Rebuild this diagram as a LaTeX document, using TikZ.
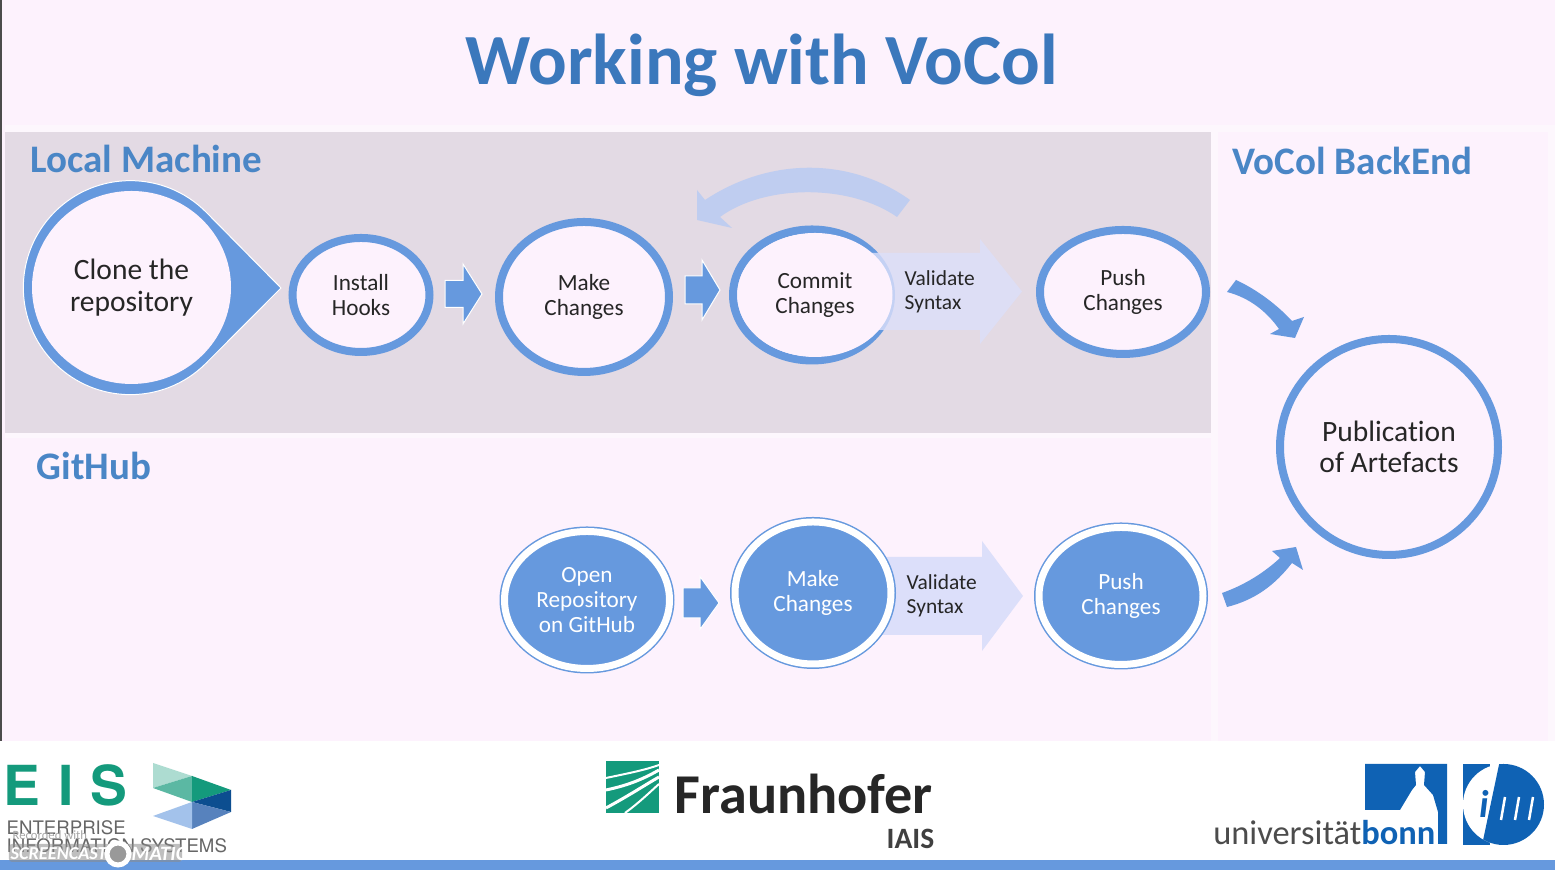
\documentclass[tikz,border=0pt]{standalone}
\usepackage{fontspec}
\setmainfont[Ligatures=NoCommon]{Carlito}
\newfontfamily\logofont{TeX Gyre Heros}
\usetikzlibrary{shapes.geometric}
\def\blockarrow[#1](#2,#3)(#4:#5:#6:#7){\draw[#1] ({#2},{#3+#6}) -- ({#4},{#3+#6}) -- ({#4},{#3+#7}) -- ({#5},{#3}) -- ({#4},{#3-#7}) -- ({#4},{#3-#6}) -- ({#2},{#3-#6}) -- cycle;}
\definecolor{pagepink}{HTML}{FDF2FD}
\definecolor{lightpink}{HTML}{FDF7FD}
\definecolor{panelgrey}{HTML}{E3DAE4}
\definecolor{ringblue}{HTML}{6699DE}
\definecolor{titleblue}{HTML}{3B78BC}
\definecolor{headblue}{HTML}{4A86C6}
\definecolor{paleblue}{HTML}{DCDFFA}
\definecolor{curveblue}{HTML}{BFCDF0}
\definecolor{eisgreen}{HTML}{149A7C}
\definecolor{bonnblue}{HTML}{0F62B4}
\tikzset{
	ringnode/.style={ellipse, draw=ringblue, line width=0.8mm, fill=pagepink, text=black!85, inner sep=0pt, align=center, font=\fontsize{6.6}{7}\selectfont},
	darknode/.style={ellipse, draw=ringblue, line width=0.15mm, double=white, double distance=0.7mm, fill=ringblue, text=white, inner sep=0pt, align=center, font=\fontsize{6.6}{7}\selectfont},
	bluearrow/.style={fill=ringblue, draw=white, line width=0.1mm},
	validarrow/.style={fill=paleblue, draw=none},
	heading/.style={text=headblue, font=\fontsize{11.1}{12}\selectfont\bfseries, inner sep=0pt},
	validlabel/.style={anchor=west, align=left, text=black!85, inner sep=0pt, font=\fontsize{6.1}{7}\selectfont},
	marktext/.style={anchor=west, inner sep=0pt, font=\logofont\fontsize{5.3}{6}\selectfont, text=black!60},
	castlabel/.style={anchor=west, text=white, inner sep=0pt, font=\fontsize{5.2}{7}\selectfont\bfseries\itshape},
}
\begin{document}
\begin{tikzpicture}
	%%%%% START %%%%%
	\useasboundingbox (0, 0) rectangle (15.55, 8.7);
	\fill[white] (0, 0) rectangle (15.55, 8.7);
	
	\fill[pagepink] (0, 1.29) rectangle (15.55, 8.7);
	\fill[lightpink] (0.05, 1.29) rectangle (15.55, 7.45);
	\fill[panelgrey] (0.05, 4.37) rectangle (12.11, 7.38);
	\fill[pagepink] (0.05, 1.29) rectangle (12.11, 4.32);
	\fill[pagepink] (12.18, 1.29) rectangle (15.48, 7.38);
	\fill[ringblue] (0, 0) rectangle (15.55, 0.1);
	\fill[black!70] (0, 1.29) rectangle (0.02, 8.7);
	
	\node[text=titleblue, font=\fontsize{20.5}{24}\selectfont\bfseries] (title) at (7.62, 8.05) {Working with VoCol};
	\node[heading, anchor=west] (local) at (0.3, 7.11) {Local Machine};
	\node[heading, anchor=west] (github) at (0.36, 4.04) {GitHub};
	\node[heading, anchor=west] (backend) at (12.32, 7.09) {VoCol BackEnd};
	
	% clone drop
	\draw[fill=ringblue, draw=white, line width=0.1mm] (2.81, 5.82) -- (2.06, 6.58) arc (45:315:1.07) -- cycle;
	\node[ellipse, fill=pagepink, text=black!85, minimum width=1.99cm, minimum height=1.93cm, inner sep=0pt, align=center, font=\fontsize{8.4}{9}\selectfont] (clone) at (1.315, 5.825) {Clone the\\repository};
	
	% top row
	\node[ringnode, minimum width=1.37cm, minimum height=1.14cm] (hooks) at (3.61, 5.75) {Install\\Hooks};
	\node[ringnode, minimum width=1.7cm, minimum height=1.5cm] (make) at (5.84, 5.73) {Make\\Changes};
	\node[ringnode, minimum width=1.58cm, minimum height=1.31cm] (commit) at (8.12, 5.75) {};
	\node[ringnode, minimum width=1.66cm, minimum height=1.24cm] (push) at (11.23, 5.78) {Push\\Changes};
	\blockarrow[bluearrow](4.45,5.76)(4.63:4.82:0.135:0.3);
	\blockarrow[bluearrow](6.85,5.8)(7.02:7.2:0.14:0.3);
	\blockarrow[validarrow, opacity=0.8](8.6,5.785)(9.8:10.22:0.385:0.525);
	\node[ellipse, fill=pagepink, text=black!85, minimum width=1.55cm, minimum height=1.24cm, inner sep=0pt, align=center, font=\fontsize{6.6}{7}\selectfont] (commitin) at (8.15, 5.75) {Commit\\Changes};
	\node[validlabel] (validtop) at (9.04, 5.78) {Validate\\Syntax};
	
	% back arrow
	\fill[curveblue] (9.1, 6.7) .. controls (8.5, 7.13) and (7.7, 7.13) .. (7.05, 6.7) -- (6.97, 6.8) -- (6.97, 6.5) -- (7.32, 6.42) -- (7.2, 6.53) .. controls (7.65, 6.86) and (8.5, 6.86) .. (8.97, 6.53) -- cycle;
	
	% lower row
	\blockarrow[validarrow](8.6,2.74)(9.82:10.23:0.39:0.55);
	\node[darknode, minimum width=1.65cm, minimum height=1.37cm] (open) at (5.87, 2.7) {Open\\Repository\\on GitHub};
	\node[darknode, minimum width=1.56cm, minimum height=1.42cm] (makelow) at (8.13, 2.77) {Make\\Changes};
	\node[darknode, minimum width=1.64cm, minimum height=1.37cm] (pushlow) at (11.21, 2.74) {Push\\Changes};
	\blockarrow[bluearrow](6.83,2.67)(7.0:7.19:0.15:0.265);
	\node[validlabel] (validlow) at (9.06, 2.74) {Validate\\Syntax};
	
	% backend
	\node[ringnode, minimum width=2.18cm, minimum height=2.16cm, font=\fontsize{8.4}{9}\selectfont] (publish) at (13.89, 4.23) {Publication\\of Artefacts};
	\fill[ringblue] (12.36, 5.9) .. controls (12.62, 5.78) and (12.82, 5.6) .. (12.92, 5.49) -- (13.04, 5.53) -- (12.95, 5.32) -- (12.7, 5.36) -- (12.79, 5.41) .. controls (12.67, 5.58) and (12.5, 5.72) .. (12.27, 5.78) -- cycle;
	\fill[ringblue] (12.22, 2.77) .. controls (12.45, 2.85) and (12.65, 2.98) .. (12.8, 3.12) -- (12.72, 3.19) -- (12.96, 3.23) -- (13.03, 3.0) -- (12.92, 3.07) .. controls (12.75, 2.85) and (12.55, 2.7) .. (12.27, 2.63) -- cycle;
	
	% eis logo
	\node[text=eisgreen, anchor=west, inner sep=0pt, font=\logofont\fontsize{15.7}{17}\selectfont\bfseries] (eis) at (0.03, 0.85) {E\hspace{5pt}I\hspace{5pt}S};
	\node[marktext] (eisone) at (0.06, 0.42) {ENTERPRISE};
	\node[marktext] (eistwo) at (0.06, 0.24) {INFORMATION SYSTEMS};
	\fill[eisgreen!35] (1.53, 1.07) -- (1.92, 0.94) -- (1.53, 0.82) -- cycle;
	\fill[eisgreen!70] (1.53, 0.82) -- (1.92, 0.94) -- (1.92, 0.68) -- cycle;
	\fill[eisgreen] (1.92, 0.94) -- (2.31, 0.8) -- (1.92, 0.68) -- cycle;
	\fill[bonnblue!80!black] (2.31, 0.8) -- (2.31, 0.58) -- (1.92, 0.68) -- cycle;
	\fill[ringblue!85!black] (1.92, 0.68) -- (2.31, 0.58) -- (1.92, 0.41) -- cycle;
	\fill[ringblue!60!white] (1.92, 0.68) -- (1.92, 0.41) -- (1.53, 0.54) -- cycle;
	
	% fraunhofer logo
	\fill[eisgreen] (6.06, 0.57) rectangle (6.59, 1.09);
	\draw[white, line width=0.2mm] (6.06, 0.92) .. controls (6.3, 0.97) and (6.45, 1.0) .. (6.59, 1.05);
	\draw[white, line width=0.3mm] (6.06, 0.8) .. controls (6.3, 0.85) and (6.45, 0.92) .. (6.59, 1.0);
	\draw[white, line width=0.3mm] (6.06, 0.62) .. controls (6.3, 0.75) and (6.45, 0.85) .. (6.59, 0.93);
	\draw[white, line width=0.2mm] (6.25, 0.57) .. controls (6.4, 0.68) and (6.5, 0.78) .. (6.59, 0.86);
	\node[text=black!85, anchor=west, inner sep=0pt, font=\fontsize{16}{18}\selectfont\bfseries] (fraunhofer) at (6.74, 0.76) {Fraunhofer};
	\node[text=black!75, anchor=east, inner sep=0pt, font=\fontsize{8.4}{9}\selectfont\bfseries] (iais) at (9.35, 0.31) {IAIS};
	
	% bonn logo
	\fill[bonnblue] (13.65, 1.06) -- (14.47, 1.06) -- (14.47, 0.26) -- (14.38, 0.26) -- (14.38, 0.58) -- (14.33, 0.75) -- (14.24, 0.85) -- (14.25, 0.98) -- (14.2, 1.04) -- (14.15, 0.98) -- (14.16, 0.85) -- (14.12, 0.8) -- (14.0, 0.6) -- (13.65, 0.6) -- cycle;
	\node[anchor=base east, inner sep=0pt, font=\fontsize{9.8}{11}\selectfont] (bonn) at (14.36, 0.25) {\textcolor{black!70}{universität}\textcolor{bonnblue}{\bfseries bonn}};
	\fill[bonnblue] (14.63, 1.06) rectangle (14.9, 0.25);
	\fill[white] (15.035, 0.655) circle (0.405);
	\begin{scope}
		\clip (15.035, 0.655) circle (0.405);
		\fill[bonnblue] (15.0, 1.1) -- (15.5, 1.1) -- (15.5, 0.2) -- (14.81, 0.2) -- cycle;
	\end{scope}
	\foreach \xpos in {15.01, 15.15, 15.29}
		\draw[white, line width=0.25mm] (\xpos, 0.5) -- (\xpos + 0.04, 0.73);
	\node[text=bonnblue, inner sep=0pt, font=\fontsize{11}{12}\selectfont\itshape\bfseries] (imark) at (14.84, 0.66) {i};
	
	% watermark
	\fill[black!45, opacity=0.55, rounded corners=0.03cm] (0.09, 0.08) rectangle (1.82, 0.26);
	\node[text=black!35, anchor=west, inner sep=0pt, font=\fontsize{3.6}{4}\selectfont] (recorded) at (0.12, 0.35) {Recorded with};
	\node[castlabel] (screencast) at (0.1, 0.16) {SCREENCAST};
	\draw[white, line width=0.5mm, fill=black!40] (1.18, 0.16) circle (0.11);
	\node[castlabel, font=\fontsize{5.8}{7}\selectfont\bfseries\itshape] (matic) at (1.31, 0.16) {MATIC};
	%%%%% END %%%%%
\end{tikzpicture}
\end{document}
